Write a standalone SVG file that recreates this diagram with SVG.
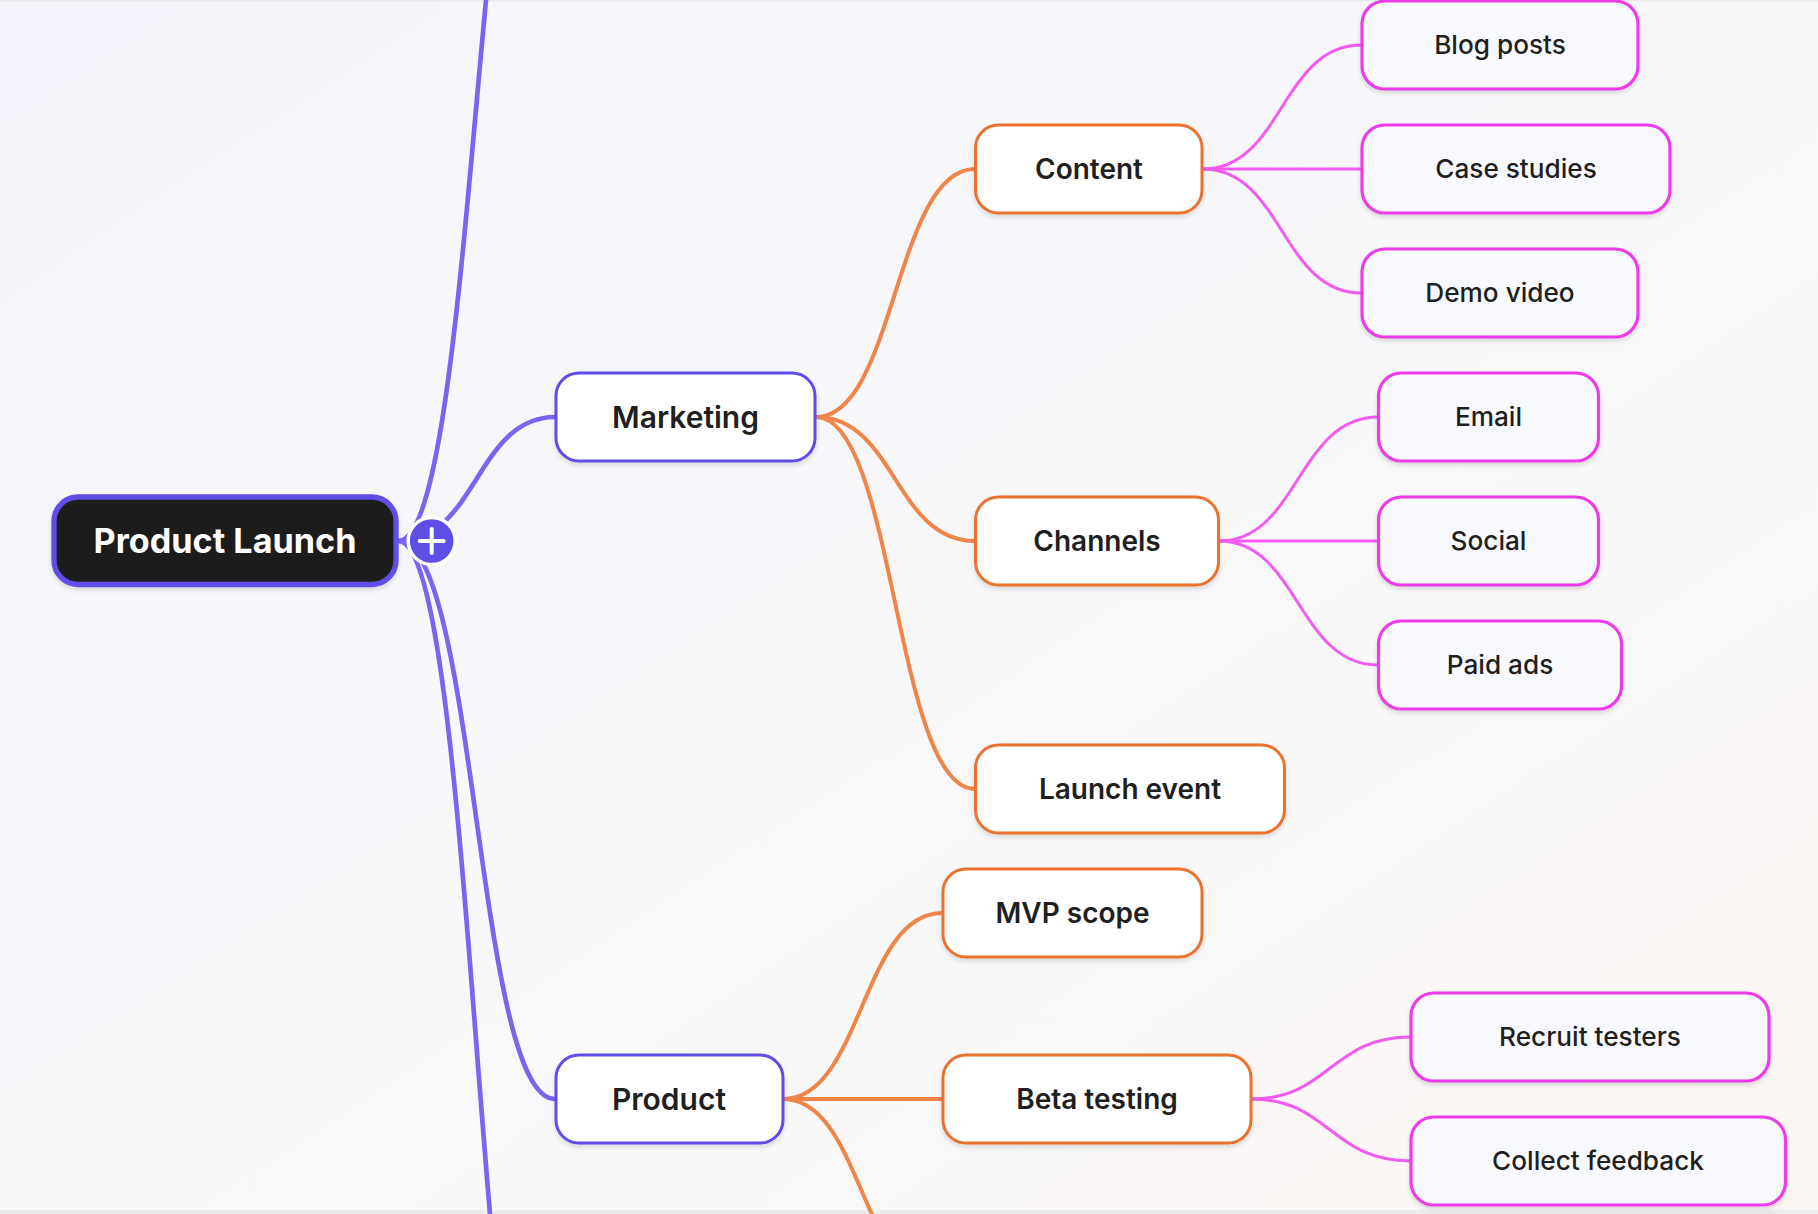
<svg xmlns="http://www.w3.org/2000/svg" width="1818" height="1214" viewBox="0 0 1818 1214">
<style>
text{font-family:"Inter","Noto Sans",sans-serif;text-anchor:middle;fill:#1f1f1f}
.n rect{filter:url(#sh)}
.l0 rect{fill:#1f1f1f;stroke:#5f4ee6;stroke-width:5.300}
.l0 text{fill:#fff;font-size:34.200px;font-weight:650}
.l1 rect{fill:#fff;stroke:#5f4ee6;stroke-width:3}
.l1 text{font-size:30px;font-weight:600}
.l2 rect{fill:#fff;stroke:#e9732f;stroke-width:3}
.l2 text{font-size:28px;font-weight:600}
.l3 rect{fill:#f8f9fc;stroke:#ee3be8;stroke-width:3.200}
.l3 text{font-size:26.200px;font-weight:500}
#connectors path{fill:none}
.e1{stroke:#7a66ee;stroke-width:4.700}
.e2{stroke:#f0854a;stroke-width:4}
.e3{stroke:#f35af0;stroke-width:3}
</style>
<defs>
<linearGradient id="bg" x1="0" y1="0" x2="1" y2="1">
<stop offset="0" stop-color="#f5f4fc"/><stop offset=".55" stop-color="#f8f8fa"/><stop offset="1" stop-color="#fbf6f3"/>
</linearGradient>
<filter id="sh" x="-10%" y="-10%" width="120%" height="125%"><feDropShadow dx="0" dy="2.700" stdDeviation="2" flood-color="#000" flood-opacity=".13"/></filter>
</defs>
<rect width="1818" height="1214" fill="#ebebeb"/>
<rect y="1.500" width="1818" height="1208.500" fill="url(#bg)"/>
<g id="connectors">
<path class="e1" d="M398 541C476.500 541 476.500 -333 555 -333"/>
<path class="e1" d="M398 541C476.500 541 476.500 417 555 417"/>
<path class="e1" d="M398 541C476.500 541 476.500 1099 555 1099"/>
<path class="e1" d="M398 541C476.500 541 476.500 1551 555 1551"/>
<path class="e2" d="M816 417C895 417 895 169 975 169"/>
<path class="e2" d="M816 417C895 417 895 541 975 541"/>
<path class="e2" d="M816 417C895 417 895 789 975 789"/>
<path class="e2" d="M783 1099C862 1099 862 913 942 913"/>
<path class="e2" d="M783 1099H942"/>
<path class="e2" d="M783 1099C862 1099 862 1285 942 1285"/>
<path class="e3" d="M1203 169C1282 169 1282 45 1361 45"/>
<path class="e3" d="M1203 169H1361"/>
<path class="e3" d="M1203 169C1282 169 1282 293 1361 293"/>
<path class="e3" d="M1219 541C1298 541 1298 417 1378 417"/>
<path class="e3" d="M1219 541H1378"/>
<path class="e3" d="M1219 541C1298 541 1298 665 1378 665"/>
<path class="e3" d="M1251 1099C1330 1099 1330 1037 1411 1037"/>
<path class="e3" d="M1251 1099C1330 1099 1330 1161 1411 1161"/>
</g>
<g id="root" class="n l0"><rect x="54" y="497" width="342" height="87.500" rx="24"/><text x="225" y="553">Product Launch</text></g>
<g id="toggle"><circle cx="431.700" cy="541" r="23.500" fill="#5f4ee6" stroke="#fff" stroke-width="3.500"/><path d="M431.700 529V553M419.700 541H443.700" stroke="#fff" stroke-width="4" stroke-linecap="round" fill="none"/></g>
<g id="marketing" class="n l1"><rect x="556" y="373" width="259" height="88" rx="23"/><text x="685.500" y="428">Marketing</text></g>
<g id="product" class="n l1"><rect x="556" y="1055" width="227" height="88" rx="23"/><text x="669" y="1110">Product</text></g>
<g id="content" class="n l2"><rect x="975.500" y="125" width="226.500" height="88" rx="23"/><text x="1089" y="179">Content</text></g>
<g id="channels" class="n l2"><rect x="975.500" y="497" width="243" height="88" rx="23"/><text x="1097" y="551">Channels</text></g>
<g id="launch" class="n l2"><rect x="975.500" y="745" width="309" height="88" rx="23"/><text x="1130" y="799">Launch event</text></g>
<g id="mvp" class="n l2"><rect x="943" y="869" width="259" height="88" rx="23"/><text x="1072.500" y="923">MVP scope</text></g>
<g id="beta" class="n l2"><rect x="943" y="1055" width="308" height="88" rx="23"/><text x="1097" y="1109">Beta testing</text></g>
<g id="blog" class="n l3"><rect x="1362" y="1" width="276" height="88" rx="23"/><text x="1500" y="54">Blog posts</text></g>
<g id="case" class="n l3"><rect x="1362" y="125" width="308" height="88" rx="23"/><text x="1516" y="178">Case studies</text></g>
<g id="demo" class="n l3"><rect x="1362" y="249" width="276" height="88" rx="23"/><text x="1500" y="302">Demo video</text></g>
<g id="email" class="n l3"><rect x="1378.500" y="373" width="220" height="88" rx="23"/><text x="1488.500" y="426">Email</text></g>
<g id="social" class="n l3"><rect x="1378.500" y="497" width="220" height="88" rx="23"/><text x="1488.500" y="550">Social</text></g>
<g id="paid" class="n l3"><rect x="1378.500" y="621" width="243" height="88" rx="23"/><text x="1500" y="674">Paid ads</text></g>
<g id="recruit" class="n l3"><rect x="1411" y="993" width="358" height="88" rx="23"/><text x="1590" y="1046">Recruit testers</text></g>
<g id="collect" class="n l3"><rect x="1411" y="1117" width="374.500" height="88" rx="23"/><text x="1598" y="1170">Collect feedback</text></g>
</svg>
